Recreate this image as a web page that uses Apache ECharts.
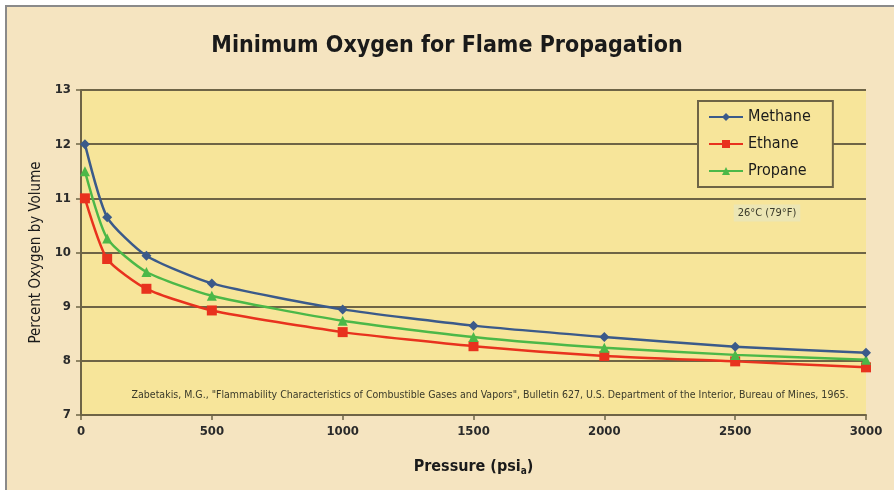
<!DOCTYPE html>
<html>
<head>
<meta charset="utf-8">
<script src="https://cdn.jsdelivr.net/npm/echarts@6/dist/echarts.min.js"></script>
<style>
  html, body { margin: 0; padding: 0; background: #fff; }
  #chart { width: 894px; height: 490px; }
</style>
</head>
<body>
<div id="chart"></div>
<script>
// pressure (psia) at each measured point
const pressure = [15, 100, 250, 500, 1000, 1500, 2000, 2500, 3000]
const methane = [12.0, 10.65, 9.94, 9.43, 8.95, 8.65, 8.44, 8.26, 8.15]
const ethane = [11.0, 9.88, 9.33, 8.93, 8.53, 8.27, 8.09, 7.99, 7.88]
const propane = [11.5, 10.26, 9.64, 9.2, 8.74, 8.44, 8.24, 8.11, 8.02]
const seriesNames = ['Methane', 'Ethane', 'Propane']
const yTicks = [7, 8, 9, 10, 11, 12, 13]
const xTicks = [0, 500, 1000, 1500, 2000, 2500, 3000]

const narrow = "'Liberation Sans Narrow', 'DejaVu Sans Condensed', 'Liberation Sans', sans-serif"
const gridColor = '#6e6446'

const pair = vals => pressure.map((p, i) => [p, vals[i]])

const chart = echarts.init(document.getElementById('chart'))

const seriesBase = {
  type: 'line',
  smooth: 0.2,
  lineStyle: { width: 2.5 },
  symbolSize: 9,
  z: 5,
}

chart.setOption({
  backgroundColor: '#ffffff',
  animation: false,
  title: {
    text: 'Minimum Oxygen for Flame Propagation',
    left: 'center',
    top: 30,
    textStyle: { fontFamily: narrow, fontWeight: 'bold', fontSize: 23, color: '#1a1a1a' },
  },
  graphic: [
    {
      type: 'rect', z: -10, silent: true,
      shape: { x: 6, y: 6, width: 900, height: 500 },
      style: { fill: '#f5e4c0', stroke: '#8a8a8a', lineWidth: 2 },
    },
    {
      type: 'text', z: 10, x: 490, y: 395,
      style: {
        text: 'Zabetakis, M.G., "Flammability Characteristics of Combustible Gases and Vapors", Bulletin 627, U.S. Department of the Interior, Bureau of Mines, 1965.',
        fontFamily: narrow, fontSize: 10.5, fill: '#3a3a2a', align: 'center', verticalAlign: 'middle',
      },
    },
    {
      type: 'text', z: 10, x: 767, y: 213,
      style: {
        text: '26°C (79°F)',
        fontFamily: narrow, fontSize: 11, fill: '#3a3a2a', align: 'center', verticalAlign: 'middle',
        backgroundColor: '#ece6b4', padding: [3, 4],
      },
    },
  ],
  legend: {
    orient: 'vertical',
    left: 698,
    top: 101,
    padding: [8, 22, 8, 10],
    itemGap: 11,
    itemWidth: 34,
    itemHeight: 10,
    backgroundColor: '#f7e59a',
    borderColor: gridColor,
    borderWidth: 2,
    borderRadius: 0,
    textStyle: { fontFamily: narrow, fontSize: 16, color: '#1a1a1a' },
    data: seriesNames,
  },
  grid: { left: 81, right: 28, top: 90, bottom: 75, show: true, backgroundColor: '#f7e59a', borderWidth: 0 },
  xAxis: {
    type: 'value',
    min: xTicks[0],
    max: xTicks[xTicks.length - 1],
    interval: 500,
    name: 'Pressure (psi{sub|a})',
    nameLocation: 'middle',
    nameGap: 43,
    nameTextStyle: {
      fontFamily: narrow, fontSize: 16, fontWeight: 'bold', color: '#1a1a1a',
      rich: { sub: { fontFamily: narrow, fontSize: 10, fontWeight: 'bold', color: '#1a1a1a', verticalAlign: 'bottom', padding: [8, 0, 0, 0] } },
    },
    axisLine: { show: true, lineStyle: { color: gridColor, width: 2 } },
    axisTick: { show: true, length: 5, lineStyle: { color: gridColor, width: 1.5 } },
    axisLabel: { fontFamily: narrow, fontSize: 13, fontWeight: 'bold', color: '#2a2a2a', margin: 10, formatter: v => String(v) },
    splitLine: { show: false },
  },
  yAxis: {
    type: 'value',
    min: yTicks[0],
    max: yTicks[yTicks.length - 1],
    interval: 1,
    name: 'Percent Oxygen by Volume',
    nameLocation: 'middle',
    nameGap: 36,
    nameTextStyle: { fontFamily: narrow, fontSize: 15, color: '#1a1a1a' },
    axisLine: { show: true, lineStyle: { color: gridColor, width: 2 } },
    axisTick: { show: true, length: 5, lineStyle: { color: gridColor, width: 1.5 } },
    axisLabel: { fontFamily: narrow, fontSize: 13, fontWeight: 'bold', color: '#2a2a2a', margin: 10 },
    splitLine: { show: true, lineStyle: { color: gridColor, width: 2 } },
  },
  series: [
    { ...seriesBase, name: 'Methane', data: pair(methane), color: '#3b5a8a', symbol: 'diamond', symbolSize: 10, z: 7 },
    { ...seriesBase, name: 'Ethane', data: pair(ethane), color: '#e8321e', symbol: 'rect', symbolSize: 10 },
    { ...seriesBase, name: 'Propane', data: pair(propane), color: '#4cb848', symbol: 'triangle', symbolSize: 10, z: 6 },
  ],
})
</script>
</body>
</html>
